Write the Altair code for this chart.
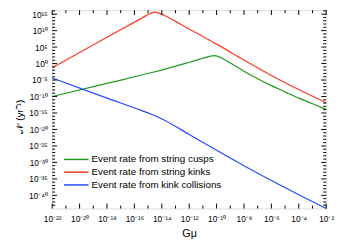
import altair as alt
import pandas as pd

# log10 values
cusps_x = [-22, -18, -14.5, -12, -11, -10.5, -10.2, -9.9, -9.5, -9, -8, -7, -6, -5, -4, -3, -2]
cusps_y = [-10, -6.0, -2.5, 0.4, 1.6, 2.2, 2.4, 2.2, 1.4, 0.2, -2.3, -4.6, -6.7, -8.6, -10.5, -12.2, -13.9]

kinks_x = [-22, -18, -15.2, -14.8, -14.5, -14.2, -13.8, -13, -12, -10, -8, -6, -4, -2]
kinks_y = [-1.3, 8.0, 14.4, 15.3, 15.6, 15.3, 14.6, 12.8, 10.5, 5.9, 1.1, -3.6, -7.9, -11.9]

coll_x = [-22, -18, -15.5, -14.8, -14.3, -13.8, -12, -10, -8, -6, -4, -2]
coll_y = [-4.4, -10.5, -14.2, -15.3, -16.2, -17.2, -21.5, -26.3, -31.0, -35.5, -39.8, -44.0]

labels = ["Event rate from string cusps", "Event rate from string kinks",
          "Event rate from kink collisions"]
colors = ["#1f9a1f", "#ff3a22", "#2447ff"]

x_major = list(range(-22, -1, 2))
x_minor = list(range(-21, -2, 2))
y_major = list(range(15, -41, -5))
y_minor = [e for e in range(-43, 17) if e % 5 != 0]

rows = []
for lab, xs, ys in zip(labels, [cusps_x, kinks_x, coll_x], [cusps_y, kinks_y, coll_y]):
    for i, (a, b) in enumerate(zip(xs, ys)):
        rows.append({"series": lab, "order": i, "gmu": 10.0 ** a, "rate": 10.0 ** b})
df = pd.DataFrame(rows)

W, H = 279, 202
FONT = "Liberation Sans"
xs_ = alt.Scale(type="log", domain=[1e-22, 1e-2], nice=False)
ys_ = alt.Scale(type="log", domain=[1e-44, 10 ** 16.21], nice=False)
cs_ = alt.Scale(domain=labels, range=colors)

sup = "toString(round(log(datum.value)/LN10))"
for a, b in [("-", "⁻"), ("0", "⁰"), ("1", "¹"), ("2", "²"), ("3", "³"), ("4", "⁴"),
             ("5", "⁵"), ("6", "⁶"), ("7", "⁷"), ("8", "⁸"), ("9", "⁹")]:
    sup = f"replace({sup}, regexp('{a}', 'g'), '{b}')"
lab_expr = "'10' + " + sup

xaxis = alt.Axis(values=[10.0 ** e for e in x_major], labelExpr=lab_expr,
                 ticks=False, domain=False, grid=False, labelPadding=6,
                 labelFontSize=8.5, titleFontSize=11, titleFontWeight="normal",
                 titlePadding=5, labelFont=FONT, titleFont=FONT, labelColor="black",
                 titleColor="black", labelFlush=False)
yaxis = alt.Axis(values=[10.0 ** e for e in y_major], labelExpr=lab_expr,
                 ticks=False, domain=False, grid=False, labelPadding=5,
                 labelFontSize=8.5, titleFontSize=10, titleFontWeight="normal",
                 labelFont=FONT, titleFont=FONT, labelColor="black",
                 titleColor="black", titleY=108, labelFlush=False)
XT, YT = "Gμ", "𝒩 (yr⁻¹)"

lines = alt.Chart(df).mark_line(strokeWidth=1.2, interpolate="monotone").encode(
    x=alt.X("gmu:Q", scale=xs_, title=XT, axis=xaxis),
    y=alt.Y("rate:Q", scale=ys_, title=YT, axis=yaxis),
    color=alt.Color("series:N", scale=cs_, legend=None),
    order="order:Q",
)

def xticks(vals, ln):
    d = pd.DataFrame({"v": [10.0 ** e for e in vals]})
    b = alt.Chart(d).mark_rule(color="black", strokeWidth=1).encode(
        x=alt.X("v:Q", scale=xs_, title=XT, axis=xaxis), y=alt.value(H), y2=alt.value(H - ln))
    t = alt.Chart(d).mark_rule(color="black", strokeWidth=1).encode(
        x=alt.X("v:Q", scale=xs_, title=XT, axis=xaxis), y=alt.value(0), y2=alt.value(ln))
    return [b, t]

def yticks(vals, ln):
    d = pd.DataFrame({"v": [10.0 ** e for e in vals]})
    l = alt.Chart(d).mark_rule(color="black", strokeWidth=1).encode(
        y=alt.Y("v:Q", scale=ys_, title=YT, axis=yaxis), x=alt.value(0), x2=alt.value(ln))
    r = alt.Chart(d).mark_rule(color="black", strokeWidth=1).encode(
        y=alt.Y("v:Q", scale=ys_, title=YT, axis=yaxis), x=alt.value(W), x2=alt.value(W - ln))
    return [l, r]

ldf = pd.DataFrame({"series": labels, "row": [0, 1, 2]})
leg_y = alt.Y("row:Q", scale=alt.Scale(domain=[0, 2], range=[152, 178]), axis=None)
leg_rule = alt.Chart(ldf).mark_rule(strokeWidth=1.5).encode(
    x=alt.value(12), x2=alt.value(37), y=leg_y,
    color=alt.Color("series:N", scale=cs_, legend=None))
leg_text = alt.Chart(ldf).mark_text(align="left", baseline="middle", fontSize=10,
                                    font=FONT, color="black").encode(
    x=alt.value(40), y=leg_y, text="series:N")

layers = [lines] + xticks(x_major, 5) + xticks(x_minor, 3) + yticks(y_major, 5) + yticks(y_minor, 3)
main = alt.layer(*layers)
chart = alt.layer(main, leg_rule, leg_text).resolve_scale(y="independent").properties(
    width=W, height=H,
    autosize=alt.AutoSizeParams(type="none"),
    padding={"left": 45, "top": 0, "right": 10, "bottom": 38},
).configure_view(stroke="black", strokeWidth=1).configure(background="white")

chart.save("out.html", embed_options={"renderer": "svg", "actions": False})
